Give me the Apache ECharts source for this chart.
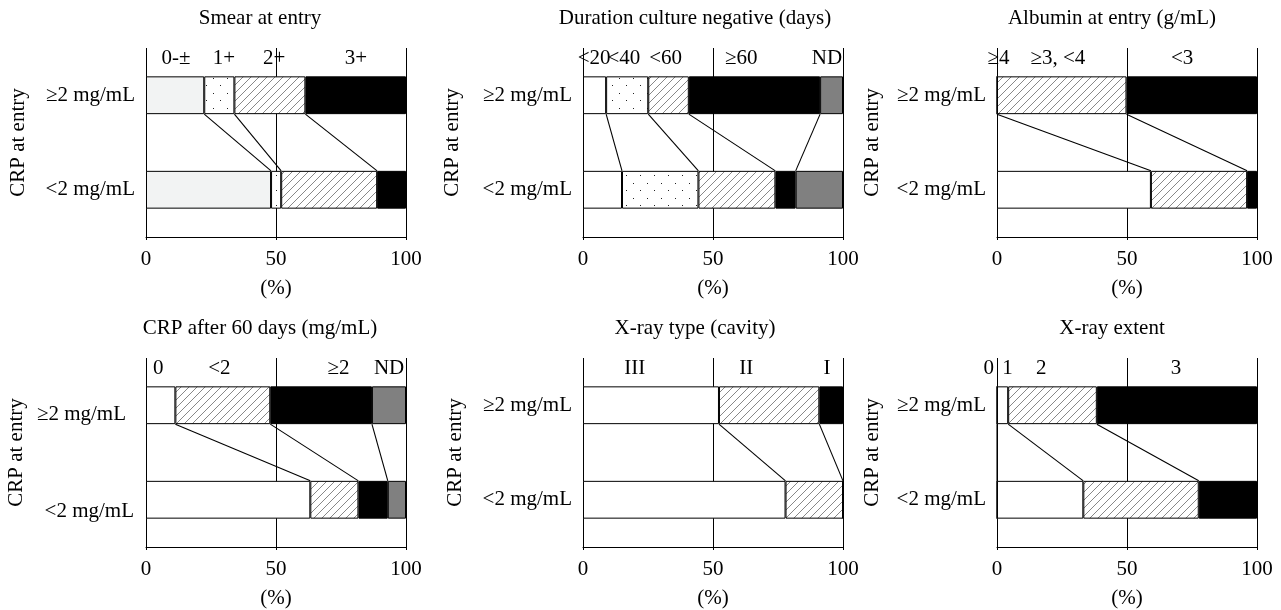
<!DOCTYPE html>
<html><head><meta charset="utf-8">
<script src="https://cdn.jsdelivr.net/npm/echarts@6/dist/echarts.min.js"></script>
<style>html,body{margin:0;padding:0;background:#fff}#c{width:1281px;height:610px}</style>
</head><body><div id="c"></div>
<script>
// ---------- data ----------
const rows = ['≥2 mg/mL', '<2 mg/mL'];
const xTicks = [0, 50, 100];

const smearTitle = 'Smear at entry';
const smearCats = ['0-±', '1+', '2+', '3+'];
const smearHigh = [22.4, 11.6, 27.3, 38.7];
const smearLow = [48.1, 3.9, 36.9, 11.1];
const smearLabelAt = [11.5, 30, 49.3, 80.7];

const cultureTitle = 'Duration culture negative (days)';
const cultureCats = ['<20', '<40', '<60', '≥60', 'ND'];
const cultureHigh = [8.9, 16.2, 15.6, 50.5, 8.8];
const cultureLow = [15.0, 29.4, 29.6, 7.8, 18.2];
const cultureLabelAt = [4.3, 15.7, 31.8, 60.9, 93.8];

const albuminTitle = 'Albumin at entry (g/mL)';
const albuminCats = ['≥4', '≥3, <4', '<3'];
const albuminHigh = [0, 49.8, 50.2];
const albuminLow = [59.2, 37.0, 3.8];
const albuminLabelAt = [0.6, 23.4, 71.2];

const crp60Title = 'CRP after 60 days (mg/mL)';
const crp60Cats = ['0', '<2', '≥2', 'ND'];
const crp60High = [11.3, 36.5, 39.1, 13.1];
const crp60Low = [63.2, 18.5, 11.3, 7.0];
const crp60LabelAt = [4.7, 28.2, 74.0, 93.5];

const xtypeTitle = 'X-ray type (cavity)';
const xtypeCats = ['III', 'II', 'I'];
const xtypeHigh = [52.3, 38.6, 9.1];
const xtypeLow = [77.9, 22.1, 0];
const xtypeLabelAt = [19.9, 62.8, 93.8];

const extentTitle = 'X-ray extent';
const extentCats = ['0', '1', '2', '3'];
const extentHigh = [0, 4.3, 34.1, 61.6];
const extentLow = [0, 33.2, 44.4, 22.4];
const extentLabelAt = [-3.2, 4.0, 17.0, 68.8];

// ---------- styles / layout ----------
const FONT = "'Liberation Serif', 'Times New Roman', serif";
const LABEL_SIZE = 21;
const TITLE_SIZE = 21;

function hatch() {
  const c = document.createElement('canvas'); c.width = 8; c.height = 8;
  const g = c.getContext('2d');
  g.fillStyle = '#fff'; g.fillRect(0, 0, 8, 8);
  g.strokeStyle = '#7a7a7a'; g.lineWidth = 0.9;
  g.beginPath();
  [-8, 0, 8].forEach(o => { g.moveTo(o, 8); g.lineTo(o + 8, 0); });
  g.stroke();
  return { image: c, repeat: 'repeat' };
}
function dots() {
  const c = document.createElement('canvas'); c.width = 14; c.height = 15;
  const g = c.getContext('2d');
  g.fillStyle = '#fff'; g.fillRect(0, 0, 14, 15);
  g.fillStyle = '#222';
  g.fillRect(3, 3, 1, 1); g.fillRect(10, 10, 1, 1);
  return { image: c, repeat: 'repeat' };
}
const FILLS = { white: '#ffffff', light: '#f2f3f3', dots: dots(), hatch: hatch(), black: '#000000', gray: '#808080' };

const panels = [
  { title: smearTitle, cats: smearCats, high: smearHigh, low: smearLow, at: smearLabelAt, fills: ['light', 'dots', 'hatch', 'black'] },
  { title: cultureTitle, cats: cultureCats, high: cultureHigh, low: cultureLow, at: cultureLabelAt, fills: ['white', 'dots', 'hatch', 'black', 'gray'] },
  { title: albuminTitle, cats: albuminCats, high: albuminHigh, low: albuminLow, at: albuminLabelAt, fills: ['white', 'hatch', 'black'] },
  { title: crp60Title, cats: crp60Cats, high: crp60High, low: crp60Low, at: crp60LabelAt, fills: ['white', 'hatch', 'black', 'gray'] },
  { title: xtypeTitle, cats: xtypeCats, high: xtypeHigh, low: xtypeLow, at: xtypeLabelAt, fills: ['white', 'hatch', 'black'] },
  { title: extentTitle, cats: extentCats, high: extentHigh, low: extentLow, at: extentLabelAt, fills: ['white', 'white', 'hatch', 'black'] }
];
const colLeft = [146, 583, 997];
const colTitleX = [255, 690, 1107];
const rowTop = [48, 358];
const rowTitleTop = [3, 313];
const GRID_W = 260, GRID_H = 189;
const yNameGap = [117, 120, 114, 119, 117, 114];

const grid = [], xAxis = [], yAxis = [], series = [], title = [];
panels.forEach((p, k) => {
  const col = k % 3, row = Math.floor(k / 3);
  grid.push({ left: colLeft[col], top: rowTop[row], width: GRID_W, height: GRID_H, containLabel: false });
  title.push({ text: p.title, left: colTitleX[col], top: rowTitleTop[row], textAlign: 'center',
    textStyle: { fontFamily: FONT, fontSize: TITLE_SIZE, fontWeight: 'normal', color: '#000' } });
  xAxis.push({ gridIndex: k, type: 'value', min: xTicks[0], max: xTicks[xTicks.length - 1], interval: xTicks[1] - xTicks[0],
    name: '(%)', nameLocation: 'middle', nameGap: 41,
    nameTextStyle: { fontFamily: FONT, fontSize: LABEL_SIZE, color: '#000' },
    axisLine: { show: true, lineStyle: { color: '#000', width: 1 } },
    axisTick: { show: true, length: 3, lineStyle: { color: '#000' } },
    axisLabel: { margin: 12, fontFamily: FONT, fontSize: LABEL_SIZE, color: '#000' },
    splitLine: { show: true, lineStyle: { color: '#000', width: 1 } } });
  const special = (k === 3);
  yAxis.push({ gridIndex: k, type: 'category', data: rows, inverse: true,
    name: 'CRP at entry', nameLocation: 'middle', nameRotate: 90, nameGap: yNameGap[k],
    nameTextStyle: { fontFamily: FONT, fontSize: LABEL_SIZE, color: '#000' },
    axisLine: { show: false }, axisTick: { show: false }, splitLine: { show: false },
    axisLabel: special ? {
      margin: 12, fontFamily: FONT, fontSize: LABEL_SIZE, color: '#000',
      formatter: (v, i) => i === 0 ? '{a|' + v + '}' : '{b|' + v + '}',
      rich: { a: { fontFamily: FONT, fontSize: LABEL_SIZE, color: '#000', padding: [18, 8, 0, 0] },
              b: { fontFamily: FONT, fontSize: LABEL_SIZE, color: '#000', padding: [24, 0, 0, 0] } }
    } : { margin: 11, fontFamily: FONT, fontSize: LABEL_SIZE, color: '#000' } });

  p.cats.forEach((c, i) => {
    series.push({ type: 'bar', name: c, xAxisIndex: k, yAxisIndex: k, stack: 'p' + k,
      data: [p.high[i], p.low[i]], barWidth: '40%', silent: true,
      itemStyle: { color: FILLS[p.fills[i]], borderColor: '#000', borderWidth: 1 } });
  });

  // connectors between cumulative boundaries
  const bounds = [];
  let a = 0, b = 0;
  for (let i = 0; i < p.cats.length - 1; i++) {
    a += p.high[i]; b += p.low[i];
    bounds.push([a, b, 0]);
  }
  series.push({ type: 'custom', xAxisIndex: k, yAxisIndex: k, silent: true, z: 5,
    encode: { x: [0, 1], y: 2 }, data: bounds,
    renderItem: (params, api) => {
      const p1 = api.coord([api.value(0), 0]);
      const p2 = api.coord([api.value(1), 1]);
      const h = api.size([0, 1])[1] * 0.2;
      return { type: 'line', shape: { x1: p1[0], y1: p1[1] + h, x2: p2[0], y2: p2[1] - h },
        style: { stroke: '#000', lineWidth: 1.1 } };
    } });

  // category labels above the top bar
  series.push({ type: 'custom', xAxisIndex: k, yAxisIndex: k, silent: true, z: 6, clip: false,
    encode: { x: 0, y: 1 }, data: p.at.map((v, i) => [v, 0, i]),
    renderItem: (params, api) => {
      const pt = api.coord([api.value(0), 0]);
      const band = api.size([0, 1])[1];
      return { type: 'text', style: { text: p.cats[api.value(2)], x: pt[0], y: pt[1] - band / 2 + 10,
        align: 'center', verticalAlign: 'middle', fontFamily: FONT, fontSize: LABEL_SIZE, fill: '#000' } };
    } });
});

const chart = echarts.init(document.getElementById('c'), null, { renderer: 'canvas' });
chart.setOption({ backgroundColor: '#fff', animation: false, title, grid, xAxis, yAxis, series });
</script>
</body></html>
